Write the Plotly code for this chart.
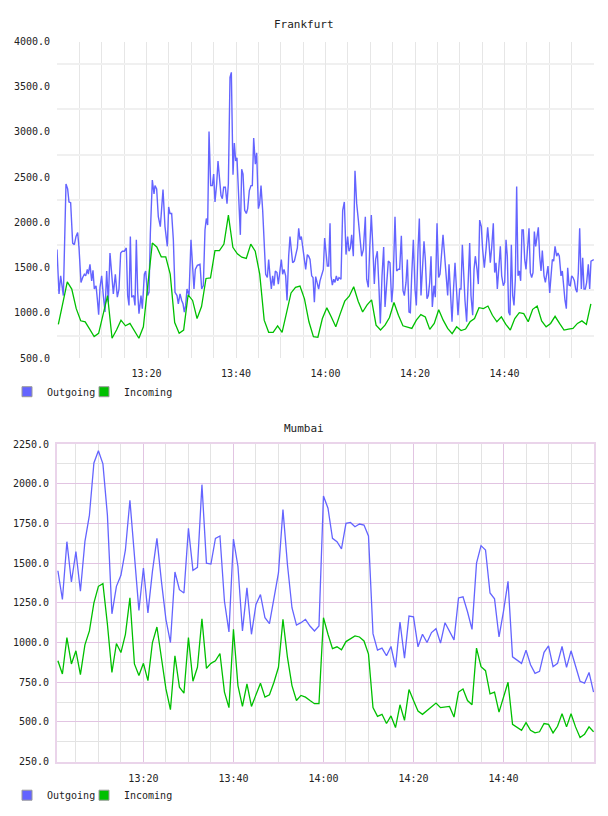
import pandas as pd
import plotly.graph_objects as go

DAY = "2024-01-01 "
FONT = "DejaVu Sans Mono"

# ---------------- Frankfurt ----------------
# Outgoing: minutes after 13:00 and values
fra_out_min = [
    0.00, 0.45, 0.82, 1.04, 1.42, 2.01, 2.38, 2.68, 3.05, 3.50,
    3.87, 4.25, 4.62, 4.92, 5.36, 5.74, 6.11, 6.41, 6.78, 7.00,
    7.37, 7.75, 8.04, 8.34, 8.72, 9.01, 9.31, 9.61, 9.98, 10.35,
    10.73, 11.10, 11.47, 11.84, 12.22, 12.59, 13.04, 13.48, 13.85, 14.23,
    14.60, 15.05, 15.49, 15.79, 16.09, 16.39, 16.69, 17.13, 17.43, 17.73,
    18.03, 18.32, 18.77, 19.07, 19.52, 19.81, 20.26, 20.56, 20.86, 21.30,
    21.68, 21.90, 22.27, 22.64, 23.09, 23.39, 23.69, 24.13, 24.65, 24.95,
    25.25, 25.62, 26.00, 26.37, 26.82, 27.11, 27.49, 27.86, 28.16, 28.45,
    28.75, 29.05, 29.50, 29.94, 30.32, 30.61, 30.91, 31.36, 31.95, 32.33,
    32.70, 33.07, 33.37, 33.67, 33.97, 34.34, 34.71, 35.01, 35.31, 35.68,
    35.98, 36.28, 36.65, 36.95, 37.24, 37.62, 37.99, 38.29, 38.66, 38.96,
    39.33, 39.63, 39.93, 40.22, 40.60, 40.97, 41.27, 41.57, 41.94, 42.31,
    42.61, 42.98, 43.35, 43.65, 43.95, 44.32, 44.62, 45.00, 45.29, 45.59,
    45.96, 46.33, 46.63, 47.00, 47.30, 47.60, 47.90, 48.19, 48.49, 48.79,
    49.16, 49.46, 49.83, 50.13, 50.43, 50.73, 51.10, 51.40, 51.77, 52.07,
    52.37, 52.66, 53.04, 53.34, 53.71, 54.01, 54.30, 54.60, 54.97, 55.27,
    55.57, 55.94, 56.24, 56.54, 56.91, 57.21, 57.51, 57.80, 58.18, 58.47,
    58.77, 59.14, 59.52, 59.81, 60.11, 60.41, 60.71, 61.01, 61.23, 61.53,
    61.83, 62.12, 62.42, 62.72, 63.02, 63.46, 63.84, 64.21, 64.58, 64.95,
    65.25, 65.55, 65.85, 66.22, 66.59, 66.97, 67.34, 67.71, 68.08, 68.46,
    68.90, 69.20, 69.57, 69.87, 70.24, 70.54, 70.91, 71.21, 71.58, 71.96,
    72.25, 72.63, 73.00, 73.30, 73.67, 74.04, 74.41, 74.79, 75.08, 75.53,
    75.90, 76.28, 76.57, 76.95, 77.32, 77.62, 77.99, 78.29, 78.66, 78.96,
    79.26, 79.63, 80.00, 80.30, 80.67, 80.97, 81.34, 81.64, 82.01, 82.31,
    82.68, 82.98, 83.28, 83.58, 83.87, 84.25, 84.54, 84.92, 85.29, 85.59,
    85.96, 86.26, 86.63, 87.00, 87.30, 87.60, 87.97, 88.27, 88.57, 88.94,
    89.31, 89.61, 89.98, 90.28, 90.58, 90.95, 91.17, 91.54, 91.92, 92.22,
    92.51, 92.89, 93.19, 93.48, 93.86, 94.15, 94.45, 94.82, 95.12, 95.49,
    95.87, 96.24, 96.54, 96.83, 97.13, 97.50, 97.80, 98.10, 98.40, 98.77,
    99.07, 99.37, 99.74, 100.04, 100.34, 100.63, 100.93, 101.23, 101.53, 101.83,
    102.12, 102.42, 102.72, 103.02, 103.32, 103.61, 103.91, 104.21, 104.51, 104.81,
    105.18, 105.48, 105.77, 106.07, 106.37, 106.67, 106.97, 107.26, 107.56, 107.86,
    108.16, 108.45, 108.83, 109.13, 109.42, 109.72, 110.10, 110.39, 110.69, 110.99,
    111.29, 111.66, 111.96, 112.25, 112.63, 112.92, 113.22, 113.52, 113.82, 114.12,
    114.41, 114.71, 115.01, 115.31, 115.61, 115.90, 116.20, 116.50, 116.80, 117.17,
    117.47, 117.77, 118.06, 118.36, 118.73, 119.03, 119.33, 119.63, 119.95,
]
fra_out = [
    1700, 1210, 1410, 1301, 1192, 2425, 2371, 2226, 2219, 1772,
    1754, 1845, 1889, 1718, 1337, 1391, 1428, 1410, 1482, 1428,
    1537, 1355, 1471, 1264, 1301, 1156, 981, 1283, 1410, 1192,
    1010, 1464, 1119, 1663, 1446, 1210, 1428, 1174, 1264, 1663,
    1682, 1682, 1718, 1192, 1083, 1845, 1174, 1192, 1083, 1809,
    1228, 992, 1192, 1047, 1428, 1464, 1192, 1228, 1881, 2469,
    2316, 2407, 2371, 2063, 1954, 2135, 2364, 1954, 1736, 2171,
    2099, 2099, 1809, 1228, 1192, 1101, 1210, 1138, 1101, 1010,
    1083, 1264, 1192, 1809, 1446, 1264, 1482, 1526, 1537, 1264,
    1301, 1917, 2044, 1972, 3006, 2407, 2407, 2534, 2226, 2425,
    2679, 2498, 2298, 2262, 2389, 2389, 2208, 2425, 3604, 3659,
    2527, 2879, 2679, 2716, 2171, 1863, 2589, 2534, 2135, 2099,
    2153, 2353, 2407, 2407, 2933, 2643, 2770, 2153, 2208, 2407,
    2135, 1627, 1428, 1391, 1591, 1410, 1264, 1410, 1301, 1464,
    1446, 1319, 1482, 1591, 1428, 1482, 1410, 1138, 1627, 1845,
    1692, 1555, 1573, 1627, 1718, 1936, 1809, 1845, 1700, 1627,
    1482, 1645, 1627, 1591, 1410, 1391, 1119, 1402, 1337, 1264,
    1355, 1410, 1482, 1827, 1700, 1518, 1518, 1990, 1410, 1308,
    1373, 1337, 1410, 1355, 1391, 1373, 2135, 2226, 1645, 1845,
    1682, 1718, 1863, 1627, 2571, 2208, 2026, 1772, 1627, 1700,
    2063, 1373, 1283, 1700, 2081, 1772, 1319, 1591, 1682, 1264,
    883, 1410, 1729, 1065, 1337, 1573, 1555, 1119, 1283, 2063,
    1464, 1482, 1482, 1852, 1246, 1192, 1337, 1591, 1010, 1003,
    1410, 1809, 1264, 1083, 1700, 2044, 1192, 1410, 1791, 1591,
    1156, 1192, 1337, 1627, 1065, 1301, 1174, 1990, 1391, 1428,
    1700, 1863, 1627, 1391, 1192, 1537, 1119, 902, 1228, 1555,
    1228, 974, 1264, 1264, 1754, 1337, 1138, 902, 1482, 1772,
    1192, 974, 1482, 1627, 1482, 1319, 2026, 1954, 1700, 1500,
    1700, 1946, 1772, 1555, 1718, 1990, 1446, 1555, 1264, 1591,
    1736, 1410, 1301, 1337, 1809, 1627, 1010, 974, 1754, 1192,
    1083, 1373, 2396, 1410, 1464, 1355, 1917, 1917, 1591, 1482,
    1700, 1936, 1446, 1391, 1446, 1899, 1736, 1863, 1946, 1627,
    1464, 1689, 1410, 1337, 1446, 1518, 1221, 1446, 1591, 1573,
    1736, 1627, 1663, 1627, 1410, 1464, 1264, 1138, 1047, 1500,
    1308, 1301, 1410, 1391, 1355, 1264, 1228, 1446, 1936, 1264,
    1609, 1264, 1264, 1337, 1537, 1264, 1573, 1584, 1590,
]
# Incoming: one sample per minute starting 13:00:18
fra_in = [
    873, 1108, 1344, 1264, 1047, 913, 902, 822, 739, 775,
    981, 1192, 720, 811, 920, 858, 884, 800, 720, 847,
    1301, 1772, 1729, 1620, 1620, 1428, 894, 775, 811, 1199,
    1138, 938, 1070, 1381, 1388, 1689, 1689, 1761, 2081, 1725,
    1653, 1616, 1602, 1761, 1682, 1428, 920, 786, 786, 858,
    786, 992, 1221, 1283, 1297, 1156, 902, 738, 731, 938,
    1056, 956, 847, 992, 1130, 1185, 1290, 1130, 1010, 1090,
    1145, 865, 811, 865, 949, 1116, 974, 858, 844, 829,
    920, 982, 956, 818, 884, 1036, 920, 829, 771, 847,
    805, 822, 902, 938, 1058, 1047, 1076, 974, 902, 956,
    873, 811, 938, 1003, 992, 902, 1040, 1076, 912, 847,
    884, 963, 884, 811, 822, 829, 884, 912, 873, 1101,
]

# ---------------- Mumbai ----------------
# one sample per minute starting 13:01
mum_out = [
    1452, 1271, 1635, 1381, 1573, 1323, 1635, 1802, 2131, 2208,
    2125, 1802, 1181, 1354, 1423, 1583, 1896, 1552, 1202, 1469,
    1187, 1448, 1656, 1385, 1146, 1000, 1444, 1333, 1312, 1719,
    1454, 1473, 1994, 1500, 1494, 1656, 1671, 1260, 1067, 1652,
    1479, 1073, 1344, 1052, 1240, 1302, 1156, 1119, 1281, 1438,
    1837, 1490, 1219, 1110, 1125, 1146, 1104, 1073, 1104, 1923,
    1846, 1656, 1635, 1590, 1750, 1756, 1729, 1746, 1740, 1671,
    1056, 952, 965, 917, 975, 844, 1129, 902, 1167, 1162,
    973, 1052, 1000, 1063, 1087, 996, 1125, 1073, 1017, 1281,
    1288, 1194, 1083, 1500, 1610, 1583, 1312, 1275, 1035, 1198,
    1385, 910, 890, 869, 952, 860, 806, 819, 938, 979,
    848, 869, 975, 844, 948, 844, 756, 744, 812, 688,
]
mum_in = [
    885, 802, 1031, 865, 948, 798, 985, 1073, 1250, 1354,
    1371, 1115, 812, 994, 937, 1052, 1281, 865, 792, 869,
    760, 1000, 1098, 896, 708, 577, 917, 719, 681, 1031,
    756, 844, 1150, 837, 869, 885, 931, 688, 590, 1083,
    729, 598, 740, 598, 673, 744, 656, 671, 750, 844,
    1146, 906, 729, 635, 667, 656, 635, 615, 615, 1156,
    1052, 962, 973, 954, 1006, 1025, 1042, 1035, 1010, 927,
    590, 535, 548, 490, 538, 465, 608, 510, 704, 635,
    569, 548, 573, 594, 619, 590, 594, 598, 531, 688,
    708, 635, 608, 965, 848, 823, 677, 688, 562, 656,
    750, 485, 465, 448, 496, 448, 431, 438, 490, 485,
    431, 473, 552, 469, 552, 469, 402, 423, 469, 438,
]

x_tick_labels = ["13:20", "13:40", "14:00", "14:20", "14:40"]
fra_y_ticks = [500, 1000, 1500, 2000, 2500, 3000, 3500, 4000]
mum_y_ticks = [250, 500, 750, 1000, 1250, 1500, 1750, 2000, 2250]
series_names = ["Outgoing", "Incoming"]

BLUE = "#6464ff"
GREEN = "#00c000"

base = pd.Timestamp(DAY + "13:00:00")
fra_out_t = base + pd.to_timedelta(fra_out_min, unit="m")
fra_in_t = pd.date_range(DAY + "13:00:18", periods=len(fra_in), freq="1min")
mum_t = pd.date_range(DAY + "13:01:00", periods=len(mum_out), freq="1min")

major_x = [DAY + s for s in x_tick_labels]
minor_x = [t for t in pd.date_range(DAY + "13:05", DAY + "14:55", freq="5min")
           if t.strftime("%H:%M") not in x_tick_labels]

fig = go.Figure()
fig.add_trace(go.Scatter(x=fra_out_t, y=fra_out, mode="lines", line=dict(color=BLUE, width=1.4),
                         showlegend=False, xaxis="x", yaxis="y"))
fig.add_trace(go.Scatter(x=fra_in_t, y=fra_in, mode="lines", line=dict(color=GREEN, width=1.3),
                         showlegend=False, xaxis="x", yaxis="y"))
fig.add_trace(go.Scatter(x=mum_t, y=mum_out, mode="lines", line=dict(color=BLUE, width=1.3),
                         showlegend=False, xaxis="x2", yaxis="y2"))
fig.add_trace(go.Scatter(x=mum_t, y=mum_in, mode="lines", line=dict(color=GREEN, width=1.3),
                         showlegend=False, xaxis="x2", yaxis="y2"))

# legend swatches: one legend box per entry so the entries can be placed freely
legend_ids = {("x", "Outgoing"): "legend", ("x", "Incoming"): "legend3",
              ("x2", "Outgoing"): "legend2", ("x2", "Incoming"): "legend4"}
for xa, ya in [("x", "y"), ("x2", "y2")]:
    for name, col in zip(series_names, [BLUE, GREEN]):
        fig.add_trace(go.Scatter(x=[None], y=[None], mode="markers", name=name,
                                 marker=dict(symbol="square", size=10, color=col,
                                             line=dict(color="#9a9a9a", width=1)),
                                 legend=legend_ids[(xa, name)], xaxis=xa, yaxis=ya))

XD = [57 / 608, 594 / 608]
tickfont = dict(family=FONT, size=10, color="#222")

common_x = dict(type="date", domain=XD, tickmode="array", tickvals=major_x, ticktext=x_tick_labels,
                ticks="outside", ticklen=6, tickcolor="rgba(0,0,0,0)", tickfont=tickfont,
                zeroline=False, fixedrange=True)

legend_common = dict(orientation="h", xanchor="left", yanchor="middle",
                     font=dict(family=FONT, size=10, color="#222"), bgcolor="rgba(0,0,0,0)",
                     itemclick=False, itemdoubleclick=False)

fig.update_layout(
    width=608, height=816,
    margin=dict(l=0, r=0, t=0, b=0),
    paper_bgcolor="white", plot_bgcolor="white",
    font=dict(family=FONT, size=10, color="#222"),
    xaxis=dict(**common_x, anchor="y",
               range=[DAY + "13:00:00", DAY + "15:00:00"],
               showgrid=True, gridcolor="#e6e6e6", gridwidth=1,
               minor=dict(tickvals=minor_x, showgrid=True, gridcolor="#e6e6e6", gridwidth=1),
               showline=False),
    yaxis=dict(domain=[1 - 358 / 816, 1 - 37 / 816], anchor="x", range=[500, 4000],
               tickmode="array", tickvals=fra_y_ticks, tickformat=".1f",
               ticks="outside", ticklen=4, tickcolor="rgba(0,0,0,0)", tickfont=tickfont,
               showgrid=False, zeroline=False, showline=False,
               minor=dict(tickvals=[750, 1250, 1750, 2250, 2750, 3250, 3750], showgrid=True,
                          gridcolor="#f0f0f0", gridwidth=2)),
    xaxis2=dict(**common_x, anchor="y2",
                range=[DAY + "13:00:48", DAY + "15:00:06"],
                showgrid=True, gridcolor="#e2c4e2", gridwidth=1,
                minor=dict(tickvals=minor_x, showgrid=True, gridcolor="#e3e3e3", gridwidth=1),
                showline=True, mirror=True, linecolor="#ead4ea", linewidth=2),
    yaxis2=dict(domain=[1 - 767 / 816, 1 - 445 / 816], anchor="x2", range=[250, 2250],
                tickmode="array", tickvals=mum_y_ticks, tickformat=".1f",
                ticks="outside", ticklen=4, tickcolor="rgba(0,0,0,0)", tickfont=tickfont,
                showgrid=True, gridcolor="#e2c4e2", gridwidth=1, zeroline=False,
                showline=True, mirror=True, linecolor="#ead4ea", linewidth=2,
                minor=dict(tickvals=[375, 625, 875, 1125, 1375, 1625, 1875, 2125], showgrid=True,
                           gridcolor="#e3e3e3", gridwidth=1)),
    legend=dict(**legend_common, x=7 / 608, y=1 - 392 / 816),
    legend3=dict(**legend_common, x=84 / 608, y=1 - 392 / 816),
    legend2=dict(**legend_common, x=7 / 608, y=1 - 801 / 816),
    legend4=dict(**legend_common, x=84 / 608, y=1 - 801 / 816),
    annotations=[
        dict(text="Frankfurt", xref="paper", yref="paper", x=0.5, y=1 - 20 / 816,
             xanchor="center", yanchor="middle", showarrow=False,
             font=dict(family=FONT, size=11, color="#222")),
        dict(text="Mumbai", xref="paper", yref="paper", x=0.5, y=1 - 429 / 816,
             xanchor="center", yanchor="middle", showarrow=False,
             font=dict(family=FONT, size=11, color="#222")),
    ],
    showlegend=True,
)

fig.write_html("out.html")
